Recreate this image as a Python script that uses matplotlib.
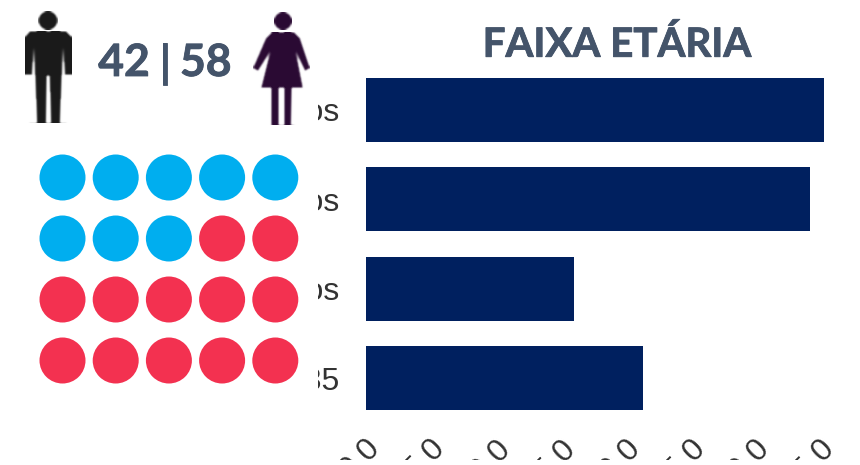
import numpy as np
import matplotlib
matplotlib.use('Agg')
from matplotlib import pyplot as plt
from matplotlib import patheffects
from matplotlib.patches import Circle, Polygon, Rectangle
from matplotlib.transforms import ScaledTranslation

W, H = 860, 465

# faixa etaria
faixas = ['16 a 24 anos', '25 a 34 anos', '35 a 44 anos', 'Mais de 35']
valores = [35.2, 34.15, 16.0, 21.3]
x_ticks = [0, 5, 10, 15, 20, 25, 30, 35]
x_labels = ['0,0', '5,0', '10,0', '15,0', '20,0', '25,0', '30,0', '35,0']

# 20 pontos: 8 homens, 12 mulheres
n_linhas = 4
n_colunas = 5
n_homens = 8
n_mulheres = 12

BLUE = '#00AEEF'
RED = '#F33150'
NAVY = '#00205F'
SLATE = '#44546A'
GREY = '#333333'


def soften(img, dpi):
    # the icons are low resolution pictures in the original
    out = img.copy()
    for _ in range(2):
        out = (out + np.roll(out, 1, 0) + np.roll(out, -1, 0)
               + np.roll(out, 1, 1) + np.roll(out, -1, 1)) / 5
    return out, 0, 0


fig = plt.figure(figsize=(W / 100, H / 100), dpi=100, facecolor='white')

# bars
ax = fig.add_axes([366 / W, 1 - 423 / H, (W - 366) / W, 358 / H])
ax.barh(range(len(faixas)), valores, height=0.72, color=NAVY)
ax.set_xlim(0, (W - 366) / 13)
ax.set_ylim(3.5, -0.5)
ax.set_yticks(range(len(faixas)), faixas, fontsize=23, color=GREY,
              family='Liberation Sans')
ax.set_xticks(x_ticks, x_labels, fontsize=23, color=GREY,
              family='Liberation Sans', rotation=45, ha='right',
              rotation_mode='anchor')
ax.tick_params(length=0)
ax.tick_params(axis='y', pad=19)
ax.tick_params(axis='x', pad=7)
for lab in ax.get_xticklabels():
    lab.set_transform(lab.get_transform() + ScaledTranslation(-1 / 100, 0, fig.dpi_scale_trans))
for s in ax.spines.values():
    s.set_visible(False)

# overlay in pixel coordinates, y going down
top = fig.add_axes([0, 0, 1, 1], zorder=5)
top.set_xlim(0, W)
top.set_ylim(H, 0)
top.axis('off')

# the left panel and the bottom edge hide part of the tick labels
top.add_patch(Rectangle((0, 0), 318, H, color='white', lw=0))
top.add_patch(Rectangle((318, 460), W - 318, 5, color='white', lw=0))

# dot grid
cores = [BLUE] * n_homens + [RED] * n_mulheres
for i, cor in enumerate(cores):
    lin, col = divmod(i, n_colunas)
    top.add_patch(Circle((62.5 + col * 53.2, 177.5 + lin * 61), 23, color=cor, lw=0))


def man(ax, color):
    parts = [Circle((48, 20.5), 9.5, color=color, lw=0),
             Polygon([(30, 31), (66, 31), (72, 37), (72, 75), (65, 75),
                      (63, 48), (62, 75), (60, 123), (51, 123), (49.5, 76),
                      (47, 76), (46, 123), (37, 123), (35, 75), (34, 48),
                      (32, 75), (25, 75), (25, 37)], color=color, lw=0)]
    for p in parts:
        p.set_agg_filter(soften)
        ax.add_patch(p)


def woman(ax, color):
    parts = [Circle((283, 21), 9, color=color, lw=0),
             Polygon([(272, 32), (294, 32), (300, 38), (310, 68), (305, 71),
                      (296, 52), (303, 88), (292, 88), (291, 125), (284, 125),
                      (284, 88), (279, 88), (279, 125), (271, 125), (271, 88),
                      (261, 88), (270, 52), (258, 71), (253, 68), (266, 38)],
                     color=color, lw=0)]
    for p in parts:
        p.set_agg_filter(soften)
        ax.add_patch(p)


man(top, '#1A1A1A')
woman(top, '#2A0A33')

heavy = [patheffects.withStroke(linewidth=0.6, foreground=SLATE)]
txt = dict(fontsize=32, fontweight='bold', family='Lato', color=SLATE, va='center',
           path_effects=heavy)
top.text(150, 63, '42', ha='right', **txt)
top.text(165, 63, '|', ha='center', **txt)
top.text(180, 63, '58', ha='left', **txt)
top.text(617, 45, 'FAIXA ETÁRIA', fontsize=29, fontweight='bold', family='Lato',
         color=SLATE, ha='center', va='center', path_effects=heavy)

fig.savefig('out.png', dpi=100)
